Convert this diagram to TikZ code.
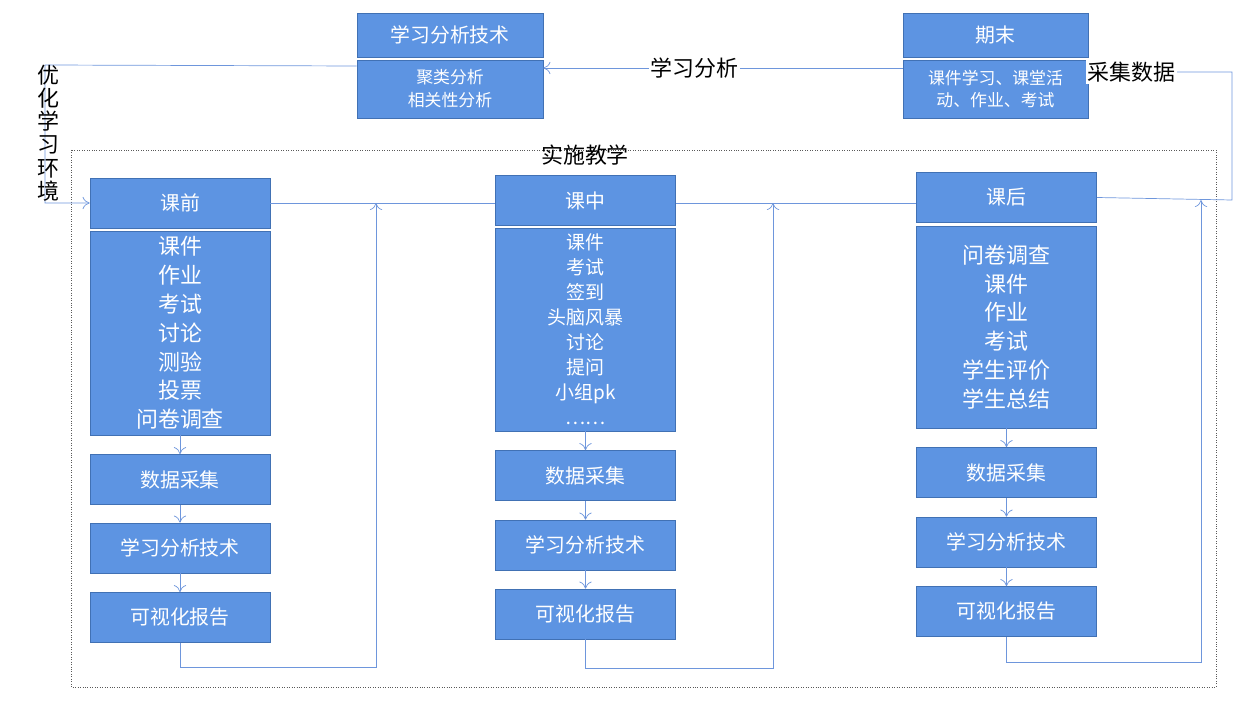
\documentclass[tikz,border=0pt]{standalone}
\usepackage{fontspec}
\setmainfont{Noto Sans CJK SC}
\usetikzlibrary{positioning,calc,arrows.meta}
\definecolor{boxblue}{RGB}{93,148,226}
\definecolor{boxedge}{RGB}{65,113,180}
\definecolor{linkblue}{RGB}{110,150,220}
\tikzset{
  box/.style={draw=boxedge,fill=boxblue,text=white,minimum width=3.6cm,inner sep=1pt,align=center},
  arr/.style={draw=linkblue,-{To[length=4pt,width=7pt]}},
  link/.style={draw=linkblue},
  lbl/.style={font=\fontsize{12.5}{15}\selectfont,inner sep=1pt}
}
\begin{document}
\begin{tikzpicture}[x=0.02cm,y=-0.02cm]
  \useasboundingbox (0,0) rectangle (1244,709);
  % top row
  \node[box,minimum width=3.72cm,minimum height=0.88cm,font=\fontsize{11.3}{13}\selectfont] (t1) at (450,35) {学习分析技术};
  \node[box,minimum width=3.72cm,minimum height=1.16cm,font=\fontsize{9.6}{13}\selectfont] (t2) at (450,89) {聚类分析\\相关性分析};
  \node[box,minimum width=3.7cm,minimum height=0.88cm,font=\fontsize{11.3}{13}\selectfont] (q1) at (995.5,35) {期末};
  \node[box,minimum width=3.7cm,minimum height=1.16cm,font=\fontsize{9.6}{13}\selectfont] (q2) at (995.5,89) {课件学习、课堂活\\动、作业、考试};
  % frame
  \draw[densely dotted,gray!70!black] (71,150) rectangle (1216,687);
  \node[lbl] (ss) at (585,155) {实施教学};
  % columns
  \node[box,minimum height=1cm,font=\fontsize{11.3}{13}\selectfont] (h1) at (180,203) {课前};
  \node[box,minimum height=4.08cm,font=\fontsize{12.5}{16.4}\selectfont] (b1) at (180,333) {课件\\作业\\考试\\讨论\\测验\\投票\\问卷调查};
  \node[box,minimum height=1cm,font=\fontsize{11.3}{13}\selectfont] (d1) at (180,479.5) {数据采集};
  \node[box,minimum height=1cm,font=\fontsize{11.3}{13}\selectfont] (a1) at (180,548) {学习分析技术};
  \node[box,minimum height=1cm,font=\fontsize{11.3}{13}\selectfont] (v1) at (180,617.5) {可视化报告};
  \node[box,minimum height=1cm,font=\fontsize{11.3}{13}\selectfont] (h2) at (585.5,200.5) {课中};
  \node[box,minimum height=4.06cm,font=\fontsize{10.8}{14.2}\selectfont] (b2) at (585.5,329.5) {课件\\考试\\签到\\头脑风暴\\讨论\\提问\\小组pk\\……};
  \node[box,minimum height=1cm,font=\fontsize{11.3}{13}\selectfont] (d2) at (585.5,475.5) {数据采集};
  \node[box,minimum height=1cm,font=\fontsize{11.3}{13}\selectfont] (a2) at (585.5,545) {学习分析技术};
  \node[box,minimum height=1cm,font=\fontsize{11.3}{13}\selectfont] (v2) at (585.5,614) {可视化报告};
  \node[box,minimum height=1cm,font=\fontsize{11.3}{13}\selectfont] (h3) at (1006.5,197.5) {课后};
  \node[box,minimum height=4.04cm,font=\fontsize{12.5}{16.4}\selectfont] (b3) at (1006.5,327) {问卷调查\\课件\\作业\\考试\\学生评价\\学生总结};
  \node[box,minimum height=1cm,font=\fontsize{11.3}{13}\selectfont] (d3) at (1006.5,472.5) {数据采集};
  \node[box,minimum height=1cm,font=\fontsize{11.3}{13}\selectfont] (a3) at (1006.5,542) {学习分析技术};
  \node[box,minimum height=1cm,font=\fontsize{11.3}{13}\selectfont] (v3) at (1006.5,611.5) {可视化报告};
  \foreach \c in {1,2,3}{
    \draw[arr] (b\c) -- (d\c);
    \draw[arr] (d\c) -- (a\c);
    \draw[arr] (a\c) -- (v\c);
  }
  % loops back to the header line
  \coordinate (j1) at (376,203);
  \coordinate (j2) at (773,203);
  \coordinate (j3) at (1201,200);
  \draw[arr] (v1.south) -- ++(0,25) -| (j1);
  \draw[arr] (v2.south) -- ++(0,29) -| (j2);
  \draw[arr] (v3.south) -- ++(0,26) -| (j3);
  \draw[link] (h1.east) -- (h1.east -| h2.west);
  \draw[link] (h2.east |- 0,203) -- (h2.east |- 0,203 -| h3.west);
  % feedback
  \coordinate (c1) at (1232,200);
  \coordinate (c2) at (45,65);
  \draw[arr] (h3.east) -- (c1) |- (q2.east |- 0,72) node[lbl,pos=0.85,fill=white] (cj) {采集数据};
  \draw[arr] (q2.west |- 0,68) -- (t2.east |- 0,68) node[lbl,pos=0.58,fill=white] (xx) {学习分析};
  \draw[arr] (t2.west |- 0,66) -- (c2) |- (h1.west);
  \node[lbl,align=center,font=\fontsize{12.5}{13.2}\selectfont] (yh) at (48,133) {优\\化\\学\\习\\环\\境};
\end{tikzpicture}
\end{document}
